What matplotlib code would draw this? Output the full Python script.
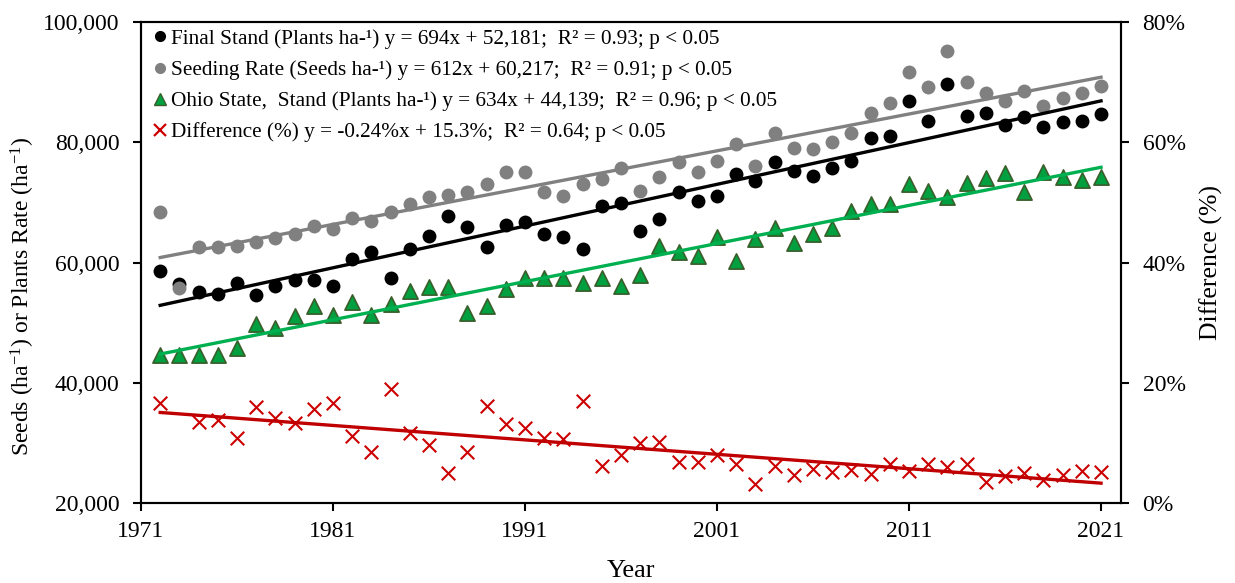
import numpy as np
import matplotlib
matplotlib.use("Agg")
import matplotlib.pyplot as plt
from matplotlib.ticker import FuncFormatter, MultipleLocator
from matplotlib.lines import Line2D

plt.rcParams['font.family'] = ['Liberation Serif', 'DejaVu Serif']
plt.rcParams['mathtext.fontset'] = 'custom'
plt.rcParams['mathtext.rm'] = 'Liberation Serif'
plt.rcParams['mathtext.it'] = 'Liberation Serif:italic'

years = np.arange(1972, 2022)

final_stand = [58530, 56430, 55100, 54820, 56650, 54600, 56100, 57100, 57100, 56100,
               60530, 61800, 57370, 62250, 64460, 67690, 65960, 62630, 66240, 66790,
               64690, 64190, 62250, 69450, 69950, 65290, 67180, 71680, 70230, 71120,
               74720, 73610, 76670, 75280, 74390, 75780, 76940, 80660, 81100, 86910,
               83590, 89690, 84420, 84810, 82870, 84260, 82590, 83420, 83590, 84700]

seeding_rate = [68450, 55710, 62530, 62530, 62750, 63470, 64030, 64690, 66080, 65580,
                67350, 66960, 68350, 69730, 70840, 71230, 71780, 73010, 75010, 75110,
                71780, 71120, 73010, 73840, 75670, 71900, 74280, 76670, 75110, 76940,
                79660, 76050, 81590, 79000, 78830, 79990, 81490, 84810, 86580, 91630,
                89130, 95180, 90070, 88140, 86860, 88580, 86030, 87410, 88240, 89360]

ohio_stand = [44600, 44600, 44600, 44600, 45740, 49780, 49060, 51100, 52770, 51270,
              53380, 51270, 53100, 55320, 55880, 55990, 51660, 52770, 55540, 57370,
              57480, 57480, 56540, 57480, 56100, 57930, 62750, 61800, 61080, 64190,
              60310, 63860, 65690, 63190, 64690, 65690, 68620, 69680, 69680, 73060,
              71900, 70840, 73170, 74010, 74840, 71780, 75110, 74170, 73720, 74280]

difference_pct = [16.7, np.nan, 13.4, 13.8, 10.75, 16.0, 14.1, 13.25, 15.6, 16.7,
                  11.2, 8.4, 19.0, 11.6, 9.65, 5.0, 8.5, 16.1, 13.1, 12.5,
                  10.85, 10.6, 17.0, 6.15, 8.0, 10.0, 10.2, 6.76, 6.76, 8.0,
                  6.5, 3.1, 6.15, 4.66, 5.6, 5.2, 5.5, 4.8, 6.5, 5.3,
                  6.5, 6.0, 6.5, 3.5, 4.5, 5.0, 3.8, 4.66, 5.4, 5.2]

# trend coefficients (slope, intercept) with x = year - 1971
trend_final = (694, 52181)
trend_seed = (612, 60217)
trend_ohio = (634, 44139)
trend_diff = (-0.24, 15.3)

labels = [
    "Final Stand (Plants ha-\u00b9) y = 694x + 52,181;  R\u00b2 = 0.93; p < 0.05",
    "Seeding Rate (Seeds ha-\u00b9) y = 612x + 60,217;  R\u00b2 = 0.91; p < 0.05",
    "Ohio State,  Stand (Plants ha-\u00b9) y = 634x + 44,139;  R\u00b2 = 0.96; p < 0.05",
    "Difference (%) y = -0.24%x + 15.3%;  R\u00b2 = 0.64; p < 0.05",
]

fig = plt.figure(figsize=(12.35, 5.83), dpi=100)
ax = fig.add_axes([141/1235, 1-503/583, (1121-141)/1235, (503-22)/583])
ax2 = ax.twinx()

xt = years - 1971
ax.scatter(years, final_stand, s=100, color='black', zorder=3, linewidths=0)
ax.scatter(years, seeding_rate, s=100, color='#808080', zorder=3, linewidths=0)
ax.scatter(years, ohio_stand, s=120, marker='^', color='#00A040',
           edgecolors='#3B5E2B', linewidths=1.2, zorder=3)
ax2.scatter(years, difference_pct, s=95, marker='x', color='#CC0000',
            linewidths=1.5, zorder=3)

ax.plot(years, trend_final[0]*xt + trend_final[1], color='black', lw=2.4, zorder=4)
ax.plot(years, trend_seed[0]*xt + trend_seed[1], color='#808080', lw=2.4, zorder=4)
ax.plot(years, trend_ohio[0]*xt + trend_ohio[1], color='#00B050', lw=2.4, zorder=4)
ax2.plot(years, trend_diff[0]*xt + trend_diff[1], color='#C00000', lw=2.4, zorder=4)

ax.set_xlim(1971, 2022.04)
ax.set_ylim(20000, 100000)
ax2.set_ylim(0, 80)
ax.set_xticks(np.arange(1971, 2022, 10))
ax.yaxis.set_major_locator(MultipleLocator(20000))
ax2.yaxis.set_major_locator(MultipleLocator(20))
ax.yaxis.set_major_formatter(FuncFormatter(lambda v, p: f"{int(v):,}"))
ax2.yaxis.set_major_formatter(FuncFormatter(lambda v, p: f"{int(v)}%"))

for a in (ax, ax2):
    a.tick_params(direction='out', length=6, width=1.5, labelsize=17)
    for s in a.spines.values():
        s.set_linewidth(1.5)
ax.tick_params(axis='y', pad=9.5)
ax.tick_params(axis='x', pad=7)
ax2.tick_params(axis='y', pad=9.5)

ax.set_xlabel("Year", fontsize=19)
ax.xaxis.set_label_coords(0.5, -0.118)
ax.set_ylabel("Seeds (ha$^{-1}$) or Plants Rate (ha$^{-1}$)", fontsize=17)
ax.yaxis.set_label_coords(-0.106, 0.43)
ax2.set_ylabel("Difference (%)", fontsize=18.5)
ax2.yaxis.set_label_coords(1.08, 0.5)

handles = [
    Line2D([], [], ls='none', marker='o', color='black', markersize=7),
    Line2D([], [], ls='none', marker='o', color='#808080', markersize=7),
    Line2D([], [], ls='none', marker='^', markerfacecolor='#00A040',
           markeredgecolor='#3B5E2B', markersize=8),
    Line2D([], [], ls='none', marker='x', color='#CC0000', markersize=8, markeredgewidth=1.6),
]
leg = ax.legend(handles, labels, loc='upper left', bbox_to_anchor=(0.0, 1.012),
                frameon=False, fontsize=15.3, handlelength=0.55, handletextpad=0.25,
                labelspacing=0.53, borderaxespad=0.2)
leg.set_zorder(10)

fig.savefig("out.png", dpi=100)
